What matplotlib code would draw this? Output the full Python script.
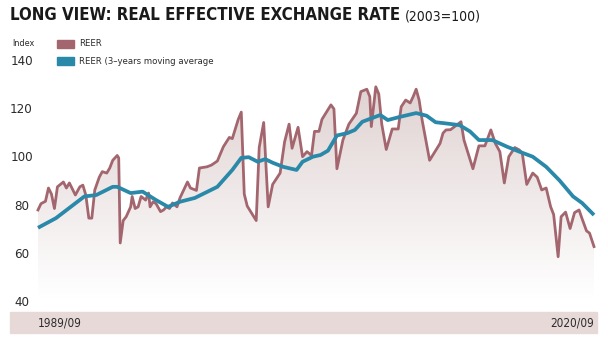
import numpy as np
import matplotlib
matplotlib.use("Agg")
import matplotlib.pyplot as plt
from matplotlib.colors import LinearSegmentedColormap
from matplotlib.patches import Rectangle

# months counted from 1989/09
reer_month = [0, 2, 5, 7, 9, 11, 13, 17, 19, 21, 25, 28, 30, 32, 34, 36, 38, 41, 43, 46,
              48, 50, 53, 54, 55, 57, 59, 62, 63, 65, 67, 69, 72, 74, 75, 77, 79, 82, 84, 86,
              88, 90, 93, 95, 97, 100, 102, 106, 108, 113, 116, 120, 124, 128, 130, 134, 136, 138, 140, 143,
              146, 148, 151, 154, 157, 162, 165, 168, 170, 174, 177, 180, 183, 185, 188, 190, 193, 196, 198, 200,
              204, 208, 213, 216, 220, 222, 223, 226, 228, 230, 233, 237, 241, 243, 246, 249, 251, 253, 255, 257,
              262, 265, 269, 271, 273, 276, 280, 283, 285, 291, 295, 299, 303, 306, 309, 312, 315, 319, 322, 324,
              327, 331, 334, 337, 340, 343, 345, 348, 350, 353, 356, 359, 362, 364, 367, 369, 372]
reer_value = [78.4, 81, 82, 87.5, 85, 79, 88, 90, 87.5, 89.6, 84.6, 88, 88.7, 84.6, 75, 75, 86.7, 92, 94.3, 93.7,
              95.8, 99, 101, 100, 64.7, 74, 75.6, 79.7, 84, 79, 79.7, 84, 82.5, 85.4, 79.7, 81.8, 81, 77.7, 78.4, 79.7,
              79, 81.3, 79.7, 83.4, 86, 90, 87.5, 86.5, 95.8, 96.3, 97, 98.7, 104.6, 108.5, 108, 116, 119, 85, 80, 77,
              74, 104.3, 114.7, 79.7, 89, 93.7, 106.7, 114, 104, 112.7, 100.5, 102.6, 101, 111, 111, 116, 119, 122, 120.3, 95.5,
              107.4, 114, 118.5, 127.5, 128.5, 125.4, 113, 129.5, 126.5, 114, 103.5, 112, 112, 121.2, 124, 122.8, 125.4, 128.5, 124, 115.7,
              99, 102, 106, 110.3, 111.6, 111.7, 113.6, 115, 107.4, 95.5, 105, 105, 111.6, 106, 102.6, 89.6, 100.5, 104.3, 103.3, 102,
              89, 93.7, 92, 86.7, 87.5, 79.7, 76.5, 59, 75.6, 77.5, 70.7, 77.3, 78.4, 74.8, 69.7, 68.8, 63.2]

ma_month = [0, 12, 31, 39, 50, 53, 62, 70, 79, 87, 95, 105, 120, 130, 136, 141, 147, 152, 157, 164,
            173, 177, 184, 189, 194, 200, 207, 212, 217, 229, 234, 242, 253, 260, 266, 273, 282, 289, 295, 304,
            314, 322, 331, 340, 349, 358, 364, 372]
ma_value = [71, 75, 84, 84.6, 88, 88, 85.4, 86, 82.5, 79.7, 81.8, 83.4, 88, 95, 100, 100.3, 98.4, 99.5, 98, 96.3,
            95, 98.4, 100.5, 101.2, 103, 109.3, 110.3, 111.6, 115, 117.8, 115.7, 117, 118.6, 117.5, 114.8, 114.3, 113.6, 111, 107.4, 107.4,
            104.6, 102.6, 100.5, 96.3, 90.6, 84, 81.3, 76.3]

y_ticks = [140, 120, 100, 80, 60, 40]
x_labels = ["1989/09", "2020/09"]
series_names = ["REER", "REER (3\u2013years moving average"]

reer_color = "#a3666e"
ma_color = "#2a88a8"
text_color = "#2b2b2b"
band_color = "#e8d9d9"
font = ["DejaVu Sans"]
stretch = "condensed"

W, H = 608, 344
fig = plt.figure(figsize=(W / 100, H / 100), dpi=100)
ax = fig.add_axes([0, 0, 1, 1])
ax.axis("off")


def px(x, y):
    return x / W, 1 - y / H


def fit_width(t, target):
    # shrink/grow a text so its rendered width is about target pixels
    for _ in range(3):
        fig.canvas.draw()
        w = t.get_window_extent().width
        t.set_fontsize(t.get_fontsize() * target / w)
    fig.canvas.draw()


# gradient under the REER line
cmap = LinearSegmentedColormap.from_list("fade", ["#ffffff", "#e0d2d2"])
grad = np.linspace(0, 1, 256).reshape(-1, 1)
im = ax.imshow(grad, extent=[reer_month[0], reer_month[-1], 42, 130], origin="lower",
               cmap=cmap, aspect="auto", zorder=1, interpolation="bilinear")
poly = ax.fill_between(reer_month, reer_value, 40, color="none", lw=0)
im.set_clip_path(poly.get_paths()[0], transform=ax.transData)

ax.plot(reer_month, reer_value, color=reer_color, lw=2.0, zorder=3, solid_joinstyle="round")
ax.plot(ma_month, ma_value, color=ma_color, lw=2.7, zorder=4, solid_capstyle="butt")

# map chart pixels: month 0 at x=38, month 372 at x=594; 40 at y=302.5, 140 at y=61.5
ppm = 556 / 372
ppu = 241 / 100
ax.set_xlim(-38 / ppm, (W - 38) / ppm)
ax.set_ylim(40 - (H - 302.5) / ppu, 40 + 302.5 / ppu)

# bottom band with period labels
ax.add_patch(Rectangle(px(10, 333), 587 / W, 21 / H, transform=ax.transAxes,
                       color=band_color, zorder=0))
ax.text(*px(38, 322.5), x_labels[0], transform=ax.transAxes, ha="left", va="center",
        fontsize=8.5, color=text_color, family=font, fontstretch=stretch)
ax.text(*px(594, 322.5), x_labels[1], transform=ax.transAxes, ha="right", va="center",
        fontsize=8.5, color=text_color, family=font, fontstretch=stretch)

# y tick labels
ytrans = ax.get_yaxis_transform()
for v in y_ticks:
    ax.text(21.5 / W, v, str(v), transform=ytrans, ha="center", va="center",
            fontsize=9.5, color=text_color, family=font, fontstretch=stretch)
ax.text(*px(12, 44), "Index", transform=ax.transAxes, ha="left", va="center",
        fontsize=6.5, color=text_color, family=font, fontstretch=stretch)

# legend
for i, (name, col) in enumerate(zip(series_names, [reer_color, ma_color])):
    yc = 44 + 17 * i
    ax.add_patch(Rectangle(px(57, yc + 4), 17 / W, 8 / H, transform=ax.transAxes,
                           color=col, zorder=5))
    ax.text(*px(79, yc), name, transform=ax.transAxes, ha="left", va="center",
            fontsize=6.8, color=text_color, family=font, fontstretch=stretch)

# title
t = ax.text(*px(10, 15), "LONG VIEW: REAL EFFECTIVE EXCHANGE RATE", transform=ax.transAxes,
            ha="left", va="center", fontsize=14, fontweight="bold", color="#1a1a1a",
            family=font, fontstretch=stretch)
fit_width(t, 390)
bb = t.get_window_extent()
sub = ax.text((bb.x1 + 5) / W, 1 - 16 / H, "(2003=100)", transform=ax.transAxes,
              ha="left", va="center", fontsize=11, color="#1a1a1a", family=font, fontstretch=stretch)
fit_width(sub, 75)

fig.savefig("out.png", dpi=100)
